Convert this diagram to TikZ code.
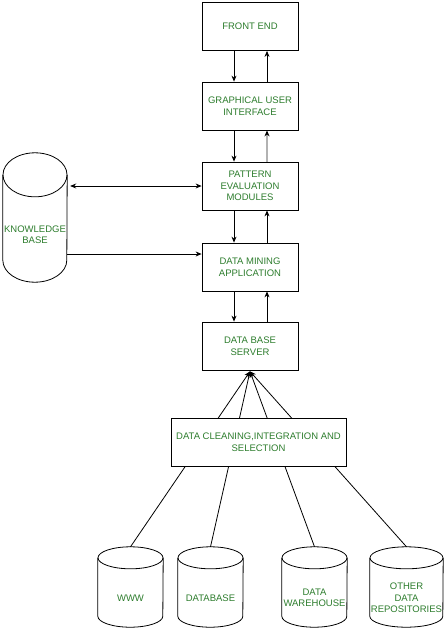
\documentclass[tikz,border=0pt]{standalone}
\usepackage{fontspec}
\setmainfont{Liberation Sans}
\usetikzlibrary{arrows.meta,calc}
\definecolor{txtgreen}{RGB}{45,125,45}
\newcommand\dbcyl[8]{% name, cx, cy, w, h, r, text dy, text
  \node[cylarea, minimum width=#4pt, minimum height=#5pt] (#1) at (#2,#3) {};
  \draw[shapeline] ($(#1.north west)+(0,#6)$) -- ($(#1.south west)+(0,-#6)$)
     arc[start angle=180, end angle=0, x radius=#4/2, y radius=#6] -- ($(#1.north east)+(0,#6)$);
  \draw[shapeline] ($(#1.north)+(0,#6)$) ellipse[x radius=#4/2, y radius=#6];
  \node[lbl] (#1-label) at ($(#1.center)+(0,#7)$) {#8};
}
\begin{document}
\begin{tikzpicture}[x=1pt,y=-1pt,
  lbl/.style={font=\fontsize{9.5}{11.5}\selectfont, text=txtgreen, align=center, inner sep=0pt},
  box/.style={lbl, draw=black, line width=0.8pt, fill=white, minimum width=96pt, minimum height=48pt},
  cylarea/.style={inner sep=0pt, draw=none},
  shapeline/.style={line width=0.8pt, draw=black},
  conn/.style={line width=0.8pt, -{Stealth[length=6pt,width=5pt,color=black]}},
  dconn/.style={line width=0.8pt, {Stealth[length=6pt,width=5pt]}-{Stealth[length=6pt,width=5pt]}}
]
\useasboundingbox (0,0) rectangle (445,629);
\fill[white] (0,0) rectangle (445,629);

% main boxes
\node[box] (fe)  at (250,26.5) {FRONT END};
\node[box] (gui) at (250,106)  {GRAPHICAL USER\\INTERFACE};
\node[box] (pe)  at (250,186)  {PATTERN\\EVALUATION\\MODULES};
\node[box] (dm)  at (250,267)  {DATA MINING\\APPLICATION};
\node[box] (dbs) at (250,346)  {DATA BASE\\SERVER};

% vertical arrows
\draw[conn] ([xshift=-16pt]fe.south) -- ([xshift=-16pt]gui.north);
\draw[conn] ([xshift=17pt]gui.north) -- ([xshift=17pt]fe.south);
\draw[conn] ([xshift=-16pt]gui.south) -- ([xshift=-16pt]pe.north);
\draw[conn, gray!60, line width=1.2pt] ([xshift=17pt]pe.north) -- ([xshift=17pt]gui.south);
\draw[conn] ([xshift=-16pt]pe.south) -- ([xshift=-16pt]dm.north);
\draw[conn] ([xshift=17pt]dm.north) -- ([xshift=17pt]pe.south);
\draw[conn] ([xshift=-16pt]dm.south) -- ([xshift=-16pt]dbs.north);
\draw[conn] ([xshift=17pt]dbs.north) -- ([xshift=17pt]dm.south);

% knowledge base
\dbcyl{kb}{35}{217.5}{64}{129}{22}{17}{KNOWLEDGE\\BASE}
\draw[dconn] ([xshift=3pt]kb.east |- pe.west) -- (pe.west);
\draw[conn] (kb.east |- 0,254) -- (dm.west |- 0,254);

% bottom data sources
\dbcyl{www}{130.5}{587}{65}{80}{11}{11}{WWW}
\dbcyl{db}{210.5}{587}{65}{80}{11}{11}{DATABASE}
\dbcyl{dw}{314.5}{587}{65}{80}{11}{11}{DATA\\WAREHOUSE}
\dbcyl{odr}{406.5}{587}{73}{80}{11}{11}{OTHER\\DATA\\REPOSITORIES}

\coordinate (conv) at ($(dbs.south)+(0,1)$);
\draw[conn] (www.north) -- (conv);
\draw[conn] (db.north) -- (conv);
\draw[conn] (dw.north) -- (conv);
\draw[conn] (odr.north) -- (conv);

\node[box, minimum width=175pt] (dc) at (258.5,442) {DATA CLEANING,INTEGRATION AND\\SELECTION};
\end{tikzpicture}
\end{document}
